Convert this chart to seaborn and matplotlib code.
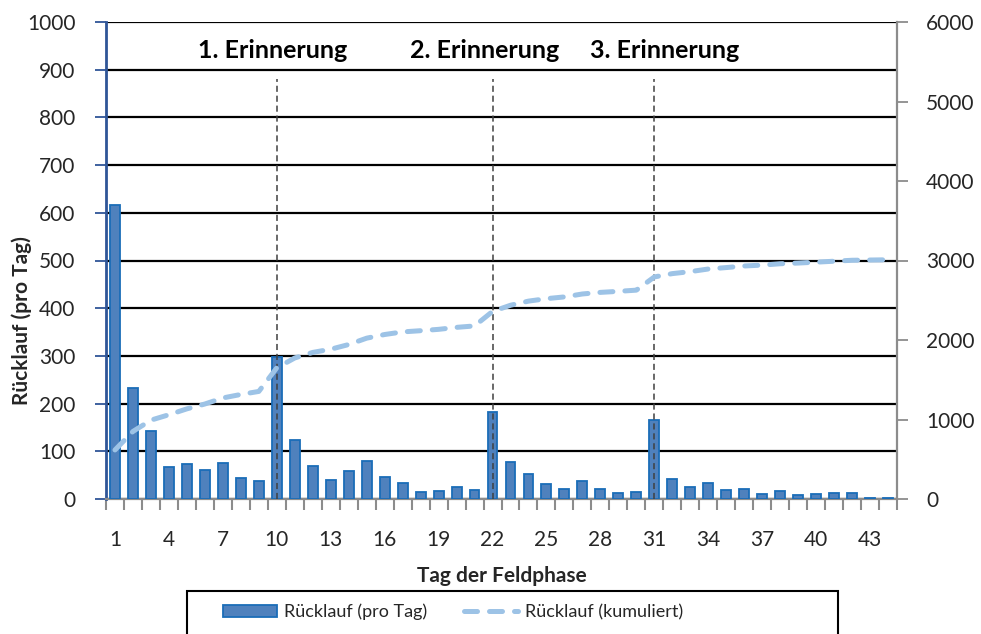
import numpy as np
import pandas as pd
import matplotlib
matplotlib.use('Agg')
import matplotlib.pyplot as plt
from matplotlib.patches import Patch, Rectangle
from matplotlib.lines import Line2D
import seaborn as sns

# Ruecklauf pro Tag der Feldphase
tage = list(range(1, 45))
ruecklauf_tag = [617, 233, 142, 68, 74, 61, 76, 44, 38, 297,
                 124, 70, 40, 59, 80, 46, 33, 15, 17, 25,
                 18, 182, 78, 52, 31, 22, 37, 20, 13, 15,
                 166, 42, 25, 33, 18, 20, 11, 17, 9, 11,
                 12, 12, 3, 3]
erinnerung_tage = [10, 22, 31]
erinnerung_labels = ["1. Erinnerung", "2. Erinnerung", "3. Erinnerung"]

df = pd.DataFrame({"tag": [str(t) for t in tage], "pro_tag": ruecklauf_tag})
df["kumuliert"] = df["pro_tag"].cumsum()

sns.set_theme(style="white")
plt.rcParams['font.family'] = ['Lato', 'DejaVu Sans']

BAR_FILL = "#4F81BD"
BAR_EDGE = "#1A6DB8"
LINE_COL = "#9DC3E6"
LEFT_COL = "#2F5597"
GRAY = "#8C8C8C"

fig = plt.figure(figsize=(9.81, 6.34), dpi=100)
ax = fig.add_axes([106 / 981, 135 / 634, 791 / 981, 477 / 634])

sns.barplot(data=df, x="tag", y="pro_tag", color=BAR_FILL, saturation=1,
            width=0.55, edgecolor=BAR_EDGE, linewidth=1.3, ax=ax, zorder=3)

ax.set_ylim(0, 1000)
ax.set_yticks(range(0, 1001, 100))
ax.yaxis.grid(True, color="black", linewidth=1.6)
ax.set_axisbelow(True)

# Erinnerungen: gestrichelte Linien + Beschriftung
offsets = [-0.25, -0.45, 0.6]
for tag, lab, off in zip(erinnerung_tage, erinnerung_labels, offsets):
    pos = tage.index(tag)
    ax.vlines(pos, 0, 880, colors="#404040", linestyles=(0, (4, 2.5)),
              linewidth=1.1, zorder=4)
    ax.text(pos + off, 940, lab, ha="center", va="center",
            fontsize=18, fontweight="bold", color="black", zorder=5)

ax2 = ax.twinx()
sns.lineplot(x=np.arange(len(tage)), y=df["kumuliert"].values, ax=ax2,
             color=LINE_COL, linewidth=3.6, linestyle=(0, (2.6, 2.4)),
             dash_capstyle="round")
ax2.set_ylim(0, 6000)
ax2.set_yticks(range(0, 6001, 1000))
ax.set_xlim(-0.5, len(tage) - 0.5)
ax2.set_xlim(-0.5, len(tage) - 0.5)

# Achsen
ax.set_xticks(range(0, len(tage), 3))
ax.set_xticklabels([str(t) for t in tage[::3]])
ax.set_xticks(np.arange(-0.5, len(tage), 1), minor=True)
ax.tick_params(axis="x", which="major", length=0, pad=22, labelsize=15)
ax.tick_params(axis="x", which="minor", length=8, width=1.5, color=GRAY,
               bottom=True)
ax.tick_params(axis="y", length=8, width=1.3, color=LEFT_COL, pad=14,
               labelsize=15, left=True)
ax2.tick_params(axis="y", length=8, width=1.3, color=GRAY, pad=13,
                labelsize=15, right=True)

for s in ["top", "right"]:
    ax.spines[s].set_visible(False)
ax.spines["left"].set_color(LEFT_COL)
ax.spines["left"].set_linewidth(2)
ax.spines["bottom"].set_color(GRAY)
ax.spines["bottom"].set_linewidth(1.6)
for s in ["top", "left", "bottom"]:
    ax2.spines[s].set_visible(False)
ax2.spines["right"].set_color(GRAY)
ax2.spines["right"].set_linewidth(1.6)
ax2.set_ylabel("")

ax.set_xlabel("Tag der Feldphase", fontsize=15, fontweight="bold", labelpad=12)
ax.set_ylabel("Rücklauf (pro Tag)", fontsize=15, fontweight="bold")
ax.yaxis.set_label_coords(-74 / 791, 0.375)

# Legende
handles = [Patch(facecolor=BAR_FILL, edgecolor=BAR_EDGE, linewidth=1.3),
           Line2D([0], [0], color=LINE_COL, linewidth=3.6,
                  linestyle=(0, (2.6, 2.4)), dash_capstyle="round")]
fig.legend(handles, ["Rücklauf (pro Tag)", "Rücklauf (kumuliert)"],
           loc="center left", bbox_to_anchor=(223 / 981, 22 / 634),
           ncol=2, frameon=False, fontsize=13, handlelength=3.0,
           handleheight=0.6, columnspacing=2.0, handletextpad=0.4,
           borderpad=0, borderaxespad=0)
fig.patches.append(Rectangle((187 / 981, -0.01), 651 / 981, 43 / 634 + 0.01,
                             transform=fig.transFigure, fill=False,
                             edgecolor="black", linewidth=1.5))

fig.savefig("out.png", dpi=100)
